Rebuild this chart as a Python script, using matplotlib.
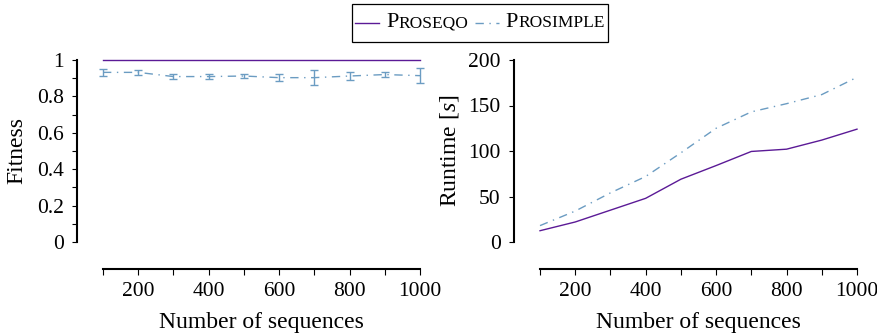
import matplotlib
matplotlib.use("Agg")
import matplotlib.pyplot as plt
from matplotlib.offsetbox import HPacker, TextArea, DrawingArea, AnchoredOffsetbox
from matplotlib.lines import Line2D

plt.rcParams['font.family'] = ['Liberation Serif', 'DejaVu Serif']
plt.rcParams['mathtext.fontset'] = 'custom'
plt.rcParams['mathtext.it'] = 'Liberation Serif:italic'
plt.rcParams['mathtext.rm'] = 'Liberation Serif'

n_seq = [100, 200, 300, 400, 500, 600, 700, 800, 900, 1000]
fit_proseqo = [1.0, 1.0, 1.0, 1.0, 1.0, 1.0, 1.0, 1.0, 1.0, 1.0]
fit_prosimple = [0.932, 0.932, 0.909, 0.909, 0.912, 0.903, 0.903, 0.912, 0.920, 0.914]
fit_prosimple_err = [0.018, 0.015, 0.012, 0.015, 0.013, 0.020, 0.040, 0.020, 0.013, 0.040]
rt_proseqo = [12.4, 22, 35, 48, 69, 84, 99.5, 102, 112, 124]
rt_prosimple = [18, 34, 54, 72, 98, 125, 143, 152, 162, 181]
x_ticks = [100, 200, 300, 400, 500, 600, 700, 800, 900, 1000]
x_ticklabels = ['', '200', '', '400', '', '600', '', '800', '', '1000']

C1 = '#5b1a96'
C2 = '#6b9cc2'
DD = (0, (6, 4, 1, 4))
FS = 17
TFS = 15.5
PT = 0.72  # points per pixel at dpi 100

W, H = 878, 333
fig = plt.figure(figsize=(W / 100, H / 100), dpi=100)

def px_axes(x0, x1, y0, y1):
    return fig.add_axes([x0 / W, 1 - y1 / H, (x1 - x0) / W, (y1 - y0) / H])

def style(ax, ymin, ymax):
    for s in ['top', 'right']:
        ax.spines[s].set_visible(False)
    ax.spines['left'].set_position(('outward', 26 * PT))
    ax.spines['bottom'].set_position(('outward', 27 * PT))
    ax.spines['left'].set_linewidth(1.5)
    ax.spines['bottom'].set_linewidth(1.5)
    ax.spines['left'].set_bounds(ymin, ymax)
    ax.spines['bottom'].set_bounds(100, 1000)
    ax.set_xlim(100, 1000)
    ax.set_ylim(ymin, ymax)
    ax.set_xticks(x_ticks)
    ax.set_xticklabels(x_ticklabels)
    ax.tick_params(axis='both', labelsize=TFS, width=0.8, direction='out')
    ax.tick_params(axis='x', length=4.3, pad=5)
    ax.tick_params(axis='y', length=3.6, pad=6)
    ax.tick_params(axis='y', which='minor', length=3.6, width=0.8)
    ax.set_xlabel('Number of sequences', fontsize=FS, labelpad=8)

ax1 = px_axes(103, 420, 60, 242)
style(ax1, 0, 1)
ax1.plot(n_seq, fit_proseqo, color=C1, lw=1.0, clip_on=False)
ax1.errorbar(n_seq, fit_prosimple, yerr=fit_prosimple_err, color=C2, lw=1.0,
             linestyle=DD, capsize=2.6, elinewidth=1.0, capthick=1.0, clip_on=False)
ax1.set_yticks([0, 0.2, 0.4, 0.6, 0.8, 1.0])
ax1.set_yticklabels(['0', '0.2', '0.4', '0.6', '0.8', '1'])
ax1.set_yticks([0.1, 0.3, 0.5, 0.7, 0.9], minor=True)
ax1.set_ylabel('Fitness', fontsize=FS, labelpad=7)

ax2 = px_axes(540, 857, 60, 242)
style(ax2, 0, 200)
ax2.plot(n_seq, rt_proseqo, color=C1, lw=1.0, clip_on=False)
ax2.plot(n_seq, rt_prosimple, color=C2, lw=1.0, linestyle=DD, clip_on=False)
ax2.set_yticks([0, 50, 100, 150, 200])
ax2.set_ylabel(r'Runtime [$s$]', fontsize=FS, labelpad=5)

def line_da(color, ls):
    da = DrawingArea(17, 22, 0, 0)
    da.add_artist(Line2D([0, 17], [11, 11], color=color, lw=1.0, linestyle=ls))
    return da

def smallcaps(word):
    parts = [TextArea(word[0], textprops=dict(fontsize=16)),
             TextArea(word[1:].upper(), textprops=dict(fontsize=16 * 0.78))]
    return HPacker(children=parts, align='baseline', pad=0, sep=0)

items = [line_da(C1, '-'), smallcaps('Proseqo'), line_da(C2, DD), smallcaps('Prosimple')]
box = HPacker(children=items, align='center', pad=0, sep=5)
anch = AnchoredOffsetbox(loc='upper center', child=box, pad=0.25, borderpad=0,
                         bbox_to_anchor=(480 / W, 1 - 4 / H), bbox_transform=fig.transFigure,
                         frameon=True)
anch.patch.set_edgecolor('black')
anch.patch.set_linewidth(0.9)
anch.patch.set_boxstyle('square', pad=0)
fig.add_artist(anch)

fig.savefig('out.png', dpi=100)
